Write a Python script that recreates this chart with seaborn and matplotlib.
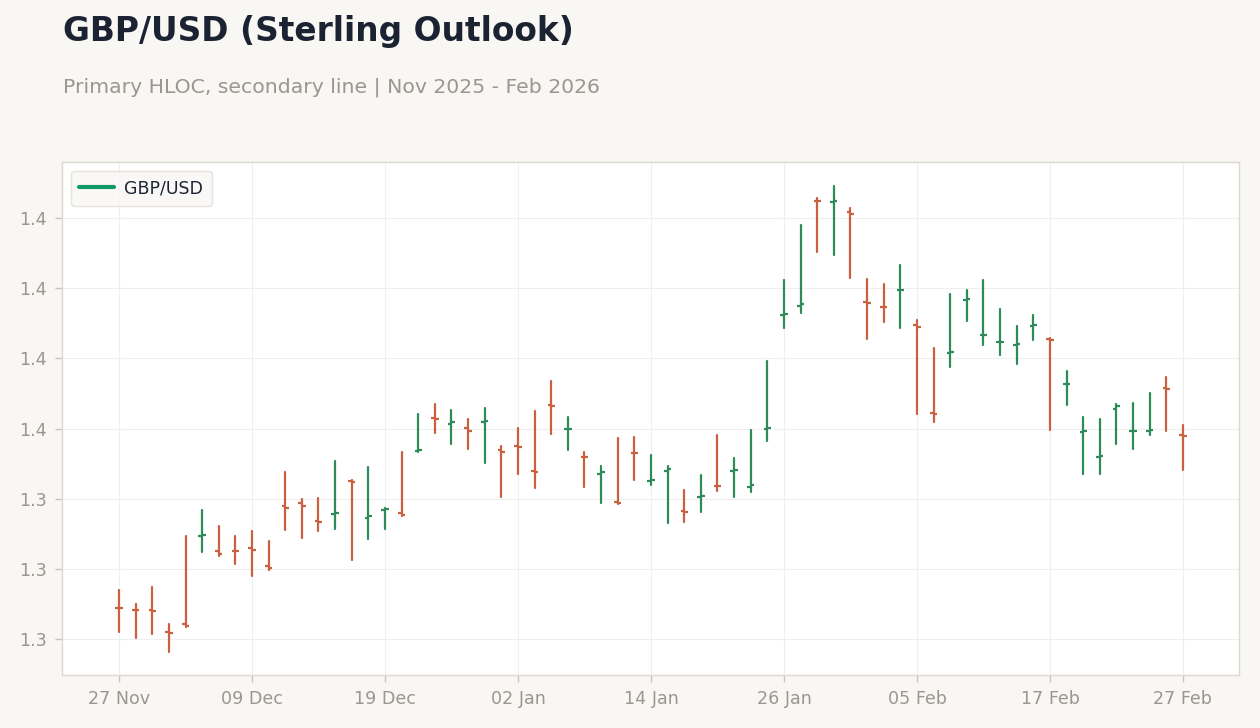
import numpy as np
import pandas as pd
import matplotlib
matplotlib.use("Agg")
import matplotlib.pyplot as plt
from matplotlib.lines import Line2D
from matplotlib.ticker import FormatStrFormatter
import seaborn as sns

# trading days (weekdays, 25 Dec and 1 Jan skipped)
holidays = ["2025-12-25", "2026-01-01"]
dates = pd.bdate_range("2025-11-27", "2026-02-27")
dates = dates[~dates.isin(pd.to_datetime(holidays))]

# GBP/USD daily OHLC
open_ = [1.3245, 1.3242, 1.3241, 1.3210, 1.3221, 1.3347, 1.3325, 1.3326, 1.3330, 1.3304,
         1.3390, 1.3394, 1.3369, 1.3379, 1.3426, 1.3373, 1.3384, 1.3380, 1.3468, 1.3515,
         1.3507, 1.3501, 1.3510, 1.3469, 1.3475, 1.3440, 1.3534, 1.3499, 1.3460, 1.3436,
         1.3395, 1.3466, 1.3425, 1.3440, 1.3382, 1.3403, 1.3419, 1.3440, 1.3417, 1.3500,
         1.3662, 1.3675, 1.3825, 1.3823, 1.3809, 1.3680, 1.3674, 1.3697, 1.3648, 1.3522,
         1.3608, 1.3684, 1.3633, 1.3623, 1.3619, 1.3646, 1.3628, 1.3563, 1.3495, 1.3460,
         1.3528, 1.3496, 1.3497, 1.3558, 1.3491]
high = [1.3270, 1.3250, 1.3274, 1.3221, 1.3347, 1.3384, 1.3362, 1.3347, 1.3354, 1.3340,
        1.3438, 1.3400, 1.3401, 1.3454, 1.3427, 1.3445, 1.3387, 1.3467, 1.3521, 1.3535,
        1.3526, 1.3514, 1.3529, 1.3476, 1.3501, 1.3525, 1.3568, 1.3516, 1.3467, 1.3447,
        1.3486, 1.3488, 1.3462, 1.3447, 1.3412, 1.3434, 1.3491, 1.3458, 1.3498, 1.3596,
        1.3712, 1.3790, 1.3829, 1.3846, 1.3814, 1.3713, 1.3706, 1.3733, 1.3655, 1.3615,
        1.3692, 1.3697, 1.3712, 1.3670, 1.3646, 1.3662, 1.3629, 1.3582, 1.3516, 1.3514,
        1.3535, 1.3536, 1.3551, 1.3573, 1.3505]
low = [1.3210, 1.3202, 1.3208, 1.3182, 1.3217, 1.3324, 1.3319, 1.3307, 1.3290, 1.3298,
       1.3356, 1.3344, 1.3354, 1.3357, 1.3313, 1.3343, 1.3357, 1.3376, 1.3467, 1.3494,
       1.3478, 1.3471, 1.3451, 1.3403, 1.3436, 1.3416, 1.3493, 1.3470, 1.3417, 1.3394,
       1.3393, 1.3427, 1.3420, 1.3366, 1.3367, 1.3381, 1.3411, 1.3403, 1.3410, 1.3483,
       1.3644, 1.3665, 1.3752, 1.3748, 1.3715, 1.3628, 1.3652, 1.3644, 1.3521, 1.3510,
       1.3588, 1.3654, 1.3619, 1.3605, 1.3592, 1.3627, 1.3498, 1.3534, 1.3436, 1.3436,
       1.3478, 1.3471, 1.3491, 1.3497, 1.3441]
close = [1.3244, 1.3241, 1.3240, 1.3209, 1.3219, 1.3349, 1.3322, 1.3325, 1.3327, 1.3302,
         1.3387, 1.3390, 1.3367, 1.3380, 1.3424, 1.3375, 1.3386, 1.3377, 1.3470, 1.3514,
         1.3509, 1.3497, 1.3511, 1.3467, 1.3474, 1.3438, 1.3533, 1.3500, 1.3459, 1.3438,
         1.3394, 1.3465, 1.3427, 1.3443, 1.3381, 1.3404, 1.3418, 1.3441, 1.3420, 1.3501,
         1.3663, 1.3678, 1.3824, 1.3825, 1.3806, 1.3679, 1.3673, 1.3698, 1.3645, 1.3521,
         1.3609, 1.3685, 1.3634, 1.3624, 1.3620, 1.3648, 1.3627, 1.3564, 1.3496, 1.3461,
         1.3532, 1.3497, 1.3498, 1.3557, 1.3490]

UP = "#2e8b57"
DOWN = "#c9603f"
BG = "#f8f7f4"
GRAY = "#9b968f"

sns.set_theme(style="whitegrid")
plt.rcParams["font.family"] = ["DejaVu Sans"]

df = pd.DataFrame({"date": dates, "open": open_, "high": high, "low": low, "close": close})
df["x"] = np.arange(len(df))
df["dir"] = np.where(df["close"] >= df["open"], "up", "down")

# long form: one low point and one high point per bar -> vertical range
rng = df.melt(id_vars=["x", "dir"], value_vars=["low", "high"], value_name="price")

fig = plt.figure(figsize=(12.6, 7.28), dpi=100, facecolor=BG)
ax = fig.add_axes([0.0492, 0.0728, 0.9341, 0.7047])
ax.set_facecolor("white")

sns.lineplot(data=rng, x="x", y="price", units="x", estimator=None, hue="dir",
             palette={"up": UP, "down": DOWN}, sort=False, legend=False,
             linewidth=1.6, ax=ax)

cols = df["dir"].map({"up": UP, "down": DOWN})
ax.hlines(df["open"], df["x"] - 0.22, df["x"], colors=cols, linewidth=1.6)
ax.hlines(df["close"], df["x"], df["x"] + 0.22, colors=cols, linewidth=1.6)

ax.set_xlim(-3.43, 67.37)
ax.set_ylim(1.3149, 1.3880)
ax.set_yticks(np.arange(1.32, 1.3801, 0.01))
ax.yaxis.set_major_formatter(FormatStrFormatter("%.1f"))
tick_pos = df["x"][::8]
ax.set_xticks(tick_pos)
ax.set_xticklabels(df["date"][::8].dt.strftime("%d %b"))
ax.set_xlabel("")
ax.set_ylabel("")

ax.grid(True, color="#efefef", linewidth=0.8)
for s in ax.spines.values():
    s.set_color("#ddd8d0")
    s.set_linewidth(1)
ax.tick_params(axis="both", colors="#c8c4be", labelcolor=GRAY, labelsize=12.6,
               length=5, width=1, pad=6, bottom=True, left=True)

handle = Line2D([0], [0], color="#12996a", linewidth=3)
leg = ax.legend([handle], ["GBP/USD"], loc="upper left", fontsize=12.5,
                frameon=True, facecolor=BG, edgecolor="#e3ddd5", handlelength=2.0,
                handletextpad=0.6, borderpad=0.5, bbox_to_anchor=(0.0, 1.0))
for t in leg.get_texts():
    t.set_color("#1c2433")

fig.text(0.05, 0.9437, "GBP/USD (Sterling Outlook)", fontsize=23.7, fontweight="bold",
         color="#1b2333", ha="left", va="baseline")
fig.text(0.05, 0.8736, "Primary HLOC, secondary line | Nov 2025 - Feb 2026", fontsize=14.7,
         color=GRAY, ha="left", va="baseline")

plt.savefig("out.png", dpi=100, facecolor=BG)
